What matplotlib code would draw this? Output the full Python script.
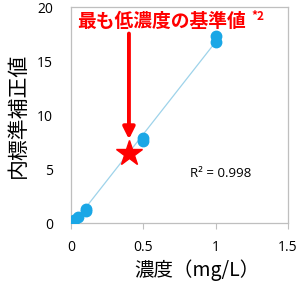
import numpy as np
import matplotlib
matplotlib.use("Agg")
import matplotlib.pyplot as plt

plt.rcParams['font.family'] = ['Noto Sans CJK JP', 'DejaVu Sans']

# data
conc = [0.0, 0.01, 0.02, 0.05, 0.1, 0.1, 0.5, 0.5, 1.0, 1.0]
ratio = [0.05, 0.15, 0.3, 0.6, 1.1, 1.3, 7.6, 7.85, 16.75, 17.35]
lowest_x = 0.4
lowest_y = 6.5
r2_text = "R² = 0.998"
title_text = "最も低濃度の基準値"
xticks = [0, 0.5, 1, 1.5]
xticklabels = ["0", "0.5", "1", "1.5"]
yticks = [0, 5, 10, 15, 20]

fig = plt.figure(figsize=(3.0, 2.92), dpi=100)
ax = fig.add_axes([0.237, 0.236, 0.723, 0.74])

# trend line
k, b = np.polyfit(conc, ratio, 1)
xl = np.array([0, 1.0])
ax.plot(xl, k * xl + b, color='#9ed3ea', lw=0.9, zorder=2)

ax.plot(conc, ratio, 'o', color='#1aa7e6', ms=7.5, mec='#1aa7e6', zorder=3)
ax.plot(lowest_x, lowest_y, '*', color='#ff0000', ms=19, zorder=4)

# arrow from label down to star
ax.annotate('', xy=(lowest_x, lowest_y + 1.0), xytext=(lowest_x, 17.8),
            arrowprops=dict(arrowstyle='-|>,head_width=0.35,head_length=0.7',
                            color='#ff0000', lw=2.8), zorder=4)

ax.text(0.04, 18.7, title_text, color='#ff0000', fontsize=13.5,
        fontweight='bold', va='center', ha='left')
ax.text(1.25, 19.1, "*2", color='#ff0000', fontsize=8.5,
        fontweight='bold', va='center', ha='left')

ax.text(0.82, 4.6, r2_text, fontsize=9.5, va='center', ha='left',
        family=['Open Sans', 'DejaVu Sans'])

ax.set_xlim(0, 1.5)
ax.set_ylim(0, 20)
ax.set_xticks(xticks)
ax.set_xticklabels(xticklabels)
ax.set_yticks(yticks)
for s in ax.spines.values():
    s.set_color('#bfbfbf')
    s.set_linewidth(0.9)
ax.tick_params(axis='x', length=4, color='#bfbfbf', labelsize=10, pad=8)
ax.tick_params(axis='y', length=0, labelsize=10, pad=13)
for lab in ax.get_xticklabels() + ax.get_yticklabels():
    lab.set_family(['Open Sans', 'DejaVu Sans'])

ax.set_xlabel("濃度（mg/L）", fontsize=14, labelpad=4)
ax.xaxis.set_label_coords(0.58, -0.17)
ax.set_ylabel("内標準補正値", fontsize=15)
ax.yaxis.set_label_coords(-0.245, 0.5)
ax.yaxis.label.set_verticalalignment('center')

fig.savefig("out.png", dpi=100)
